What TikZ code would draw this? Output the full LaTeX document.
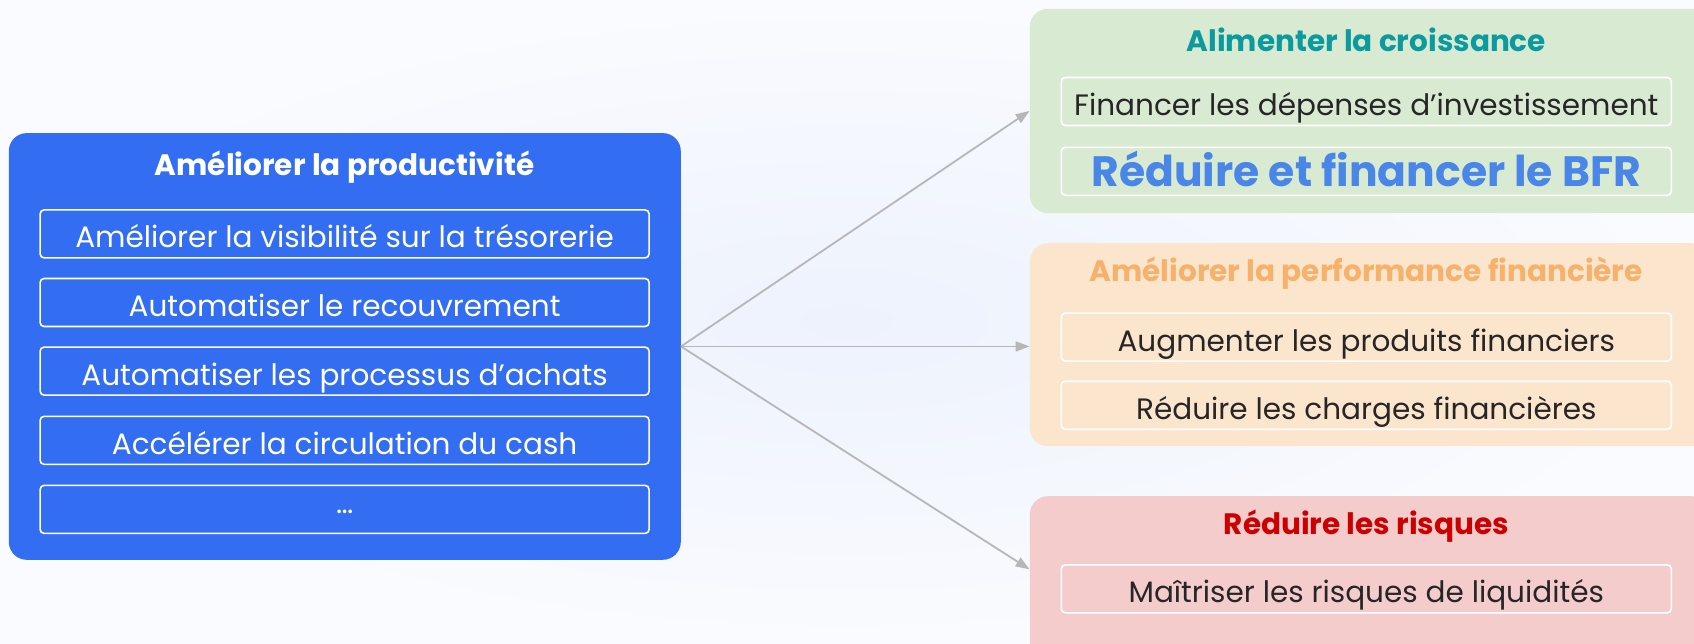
\documentclass[tikz,border=0pt]{standalone}
\usepackage{fontspec}
\setmainfont{Poppins}
\usetikzlibrary{arrows.meta,calc}

\definecolor{bgmid}{HTML}{EDF2FD}
\definecolor{bgedge}{HTML}{FAFBFE}
\definecolor{prodblue}{HTML}{336EF2}
\definecolor{greenpanel}{HTML}{D9EAD3}
\definecolor{orangepanel}{HTML}{FCE5CD}
\definecolor{redpanel}{HTML}{F4CCCC}
\definecolor{tealtitle}{HTML}{0B9A9E}
\definecolor{orangetitle}{HTML}{F6B26B}
\definecolor{redtitle}{HTML}{CC0000}
\definecolor{bfrblue}{HTML}{4A86E8}
\definecolor{darktext}{HTML}{262626}
\definecolor{arrowgray}{HTML}{B7B7B7}

\tikzset{
  panel/.style={rounded corners=18pt, draw=none, anchor=north west, inner sep=0pt},
  panelTitle/.style={font=\fontsize{29.5}{34}\selectfont\bfseries, inner sep=0pt},
  itembox/.style={draw=white, line width=1.6pt, rounded corners=4pt,
    minimum height=48pt, inner sep=0pt, text height=28pt, text depth=0pt,
    font=\fontsize{29.5}{34}\selectfont},
  leftitem/.style={itembox, minimum width=609pt, text=white},
  rightitem/.style={itembox, minimum width=610pt, text=darktext},
  link/.style={draw=arrowgray, line width=1.8pt,
    -{Triangle[length=14pt,width=10pt]}},
}

\begin{document}
\begin{tikzpicture}[x=1pt,y=-1pt]
\useasboundingbox (0,0) rectangle (1694,643);
\clip (0,0) rectangle (1694,643);
% soft background
\shade[inner color=bgmid, outer color=bgedge] (0,0) rectangle (1694,643);

% productivity block
\node[panel, fill=prodblue, minimum width=672pt, minimum height=426.7pt] (prod) at (8.6,132.9) {};
\node[panelTitle, text=white] (prodT) at (344.6,167.5) {Améliorer la productivité};
\node[leftitem] (p1) at (344.6,233.9) {Améliorer la visibilité sur la trésorerie};
\node[leftitem] (p2) at (344.6,302.5) {Automatiser le recouvrement};
\node[leftitem] (p3) at (344.6,371.1) {Automatiser les processus d’achats};
\node[leftitem] (p4) at (344.6,440.3) {Accélérer la circulation du cash};
\node[leftitem, text height=8pt] (p5) at (344.6,509.4) {…};

% growth block
\node[panel, fill=greenpanel, minimum width=680pt, minimum height=204.2pt] (grow) at (1029.6,8.6) {};
\node[panelTitle, text=tealtitle] (growT) at (1366.3,40) {Alimenter la croissance};
\node[rightitem] (g1) at (1366.3,101.5) {Financer les dépenses d’investissement};
\node[rightitem, text=bfrblue, text height=31pt, font=\fontsize{42.5}{48}\selectfont\bfseries] (g2) at (1366.3,171.3) {Réduire et financer le BFR};

% financial performance block
\node[panel, fill=orangepanel, minimum width=680pt, minimum height=203pt] (perf) at (1029.6,243) {};
\node[panelTitle, text=orangetitle] (perfT) at (1366.3,273.3) {Améliorer la performance financière};
\node[rightitem] (f1) at (1366.3,337.1) {Augmenter les produits financiers};
\node[rightitem] (f2) at (1366.3,405.2) {Réduire les charges financières};

% risk block
\node[panel, fill=redpanel, minimum width=680pt, minimum height=180pt] (risk) at (1029.6,496) {};
\node[panelTitle, text=redtitle] (riskT) at (1366.3,526) {Réduire les risques};
\node[rightitem] (r1) at (1366.3,588.8) {Maîtriser les risques de liquidités};

% connectors
\coordinate (riskin) at ([yshift=-73.4pt]risk.north west);
\draw[link] (prod.east) -- (grow.west);
\draw[link] (prod.east) -- (perf.west |- prod.east);
\draw[link] (prod.east) -- (riskin);
\end{tikzpicture}
\end{document}
